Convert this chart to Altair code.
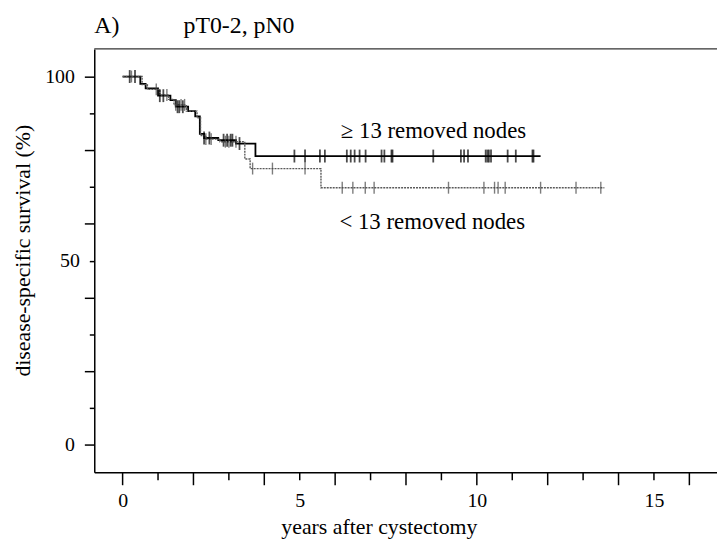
import altair as alt
import pandas as pd

# ---- data ----
ge13_time = [0, 0.5, 0.65, 1.0, 1.35, 1.5, 1.85, 2.05, 2.18, 2.3, 2.7, 3.2, 3.75, 11.8]
ge13_surv = [100, 98, 96.8, 94.8, 93.6, 91.8, 90.6, 89.2, 84.4, 83.3, 82.7, 81.8, 78.4, 78.4]
ge13_cens = [0.2, 0.35, 1.05, 1.15, 1.55, 1.6, 1.7, 2.3, 2.45, 2.85, 2.95, 3.05, 3.1, 3.3,
             4.85, 5.15, 5.57, 5.71, 6.33, 6.44, 6.55, 6.69, 6.86, 7.31, 7.39, 7.59, 7.62,
             8.77, 9.55, 9.64, 9.75, 10.25, 10.3, 10.34, 10.4, 10.87, 11.1, 11.57, 11.6]

lt13_time = [0, 0.55, 0.7, 1.05, 1.3, 1.45, 1.8, 2.1, 2.2, 2.35, 2.75, 3.45, 3.6, 5.6, 13.6]
lt13_surv = [100, 97.8, 96.5, 95, 93.8, 92.3, 90.6, 88.8, 84, 83, 82.3, 77.6, 75, 69.8, 69.8]
lt13_cens = [0.25, 0.95, 1.25, 1.5, 1.65, 1.75, 2.35, 2.5, 2.9, 3.0, 3.2,
             3.67, 4.23, 5.15, 6.2, 6.5, 6.85, 7.1, 9.2, 10.2, 10.5, 10.6, 10.8, 11.8, 12.8, 13.5]

x_ticks = list(range(0, 17))
x_labels = [0, 5, 10, 15]
y_ticks = list(range(0, 101, 10))

labels = ["\u2265 13 removed nodes", "< 13 removed nodes"]
label_x = [6.16, 6.12]
label_y = [85.1, 60.6]


def step_value(times, survs, t):
    v = survs[0]
    for ti, si in zip(times, survs):
        if ti <= t:
            v = si
    return v


ge_line = pd.DataFrame({"t": ge13_time, "s": ge13_surv})
lt_line = pd.DataFrame({"t": lt13_time, "s": lt13_surv})
ge_c = pd.DataFrame({"t": ge13_cens, "s": [step_value(ge13_time, ge13_surv, t) for t in ge13_cens]})
lt_c = pd.DataFrame({"t": lt13_cens, "s": [step_value(lt13_time, lt13_surv, t) for t in lt13_cens]})
lab = pd.DataFrame({"t": label_x, "s": label_y, "txt": labels})
ticks_long = pd.DataFrame({"t": x_ticks[::2]})
ticks_short = pd.DataFrame({"t": x_ticks[1::2]})

FONT = "Liberation Serif"
W, H = 628, 427

xs = alt.Scale(domain=[-0.8, 16.78], nice=False, zero=False)
ys = alt.Scale(domain=[-7.5, 107.5], nice=False, zero=False)

x_axis = alt.Axis(
    values=x_labels,
    labelOverlap=False,
    title="years after cystectomy",
    ticks=True,
    tickSize=0,
    labelPadding=18,
    titleX=287, titleY=55, titleAnchor="start", titleAlign="center", titleBaseline="middle",
    grid=False,
    labelFlush=False,
)
y_axis = alt.Axis(
    values=y_ticks,
    labelExpr="datum.value % 50 === 0 ? datum.label : ''",
    labelOverlap=False,
    title="disease-specific survival (%)",
    tickSize={"condition": {"test": "datum.value % 20 === 0", "value": 10}, "value": 5},
    labelPadding=10,
    titleX=-72, titleY=203, titleAngle=270, titleAnchor="start", titleAlign="center",
    titleBaseline="middle",
    grid=False,
)

base_x = alt.X("t:Q", scale=xs, axis=x_axis)
base_y = alt.Y("s:Q", scale=ys, axis=y_axis)

ge_l = alt.Chart(ge_line).mark_line(interpolate="step-after", color="black", strokeWidth=1.8).encode(
    x=base_x, y=base_y)
lt_l = alt.Chart(lt_line).mark_line(interpolate="step-after", color="#5a5a5a", strokeWidth=1.4,
                                    strokeDash=[2, 1]).encode(x="t:Q", y="s:Q")
ge_t = alt.Chart(ge_c).mark_tick(orient="vertical", color="black", thickness=1.8, size=13).encode(
    x="t:Q", y="s:Q")
lt_t = alt.Chart(lt_c).mark_tick(orient="vertical", color="#444444", thickness=1.4, size=12).encode(
    x="t:Q", y="s:Q")
txt = alt.Chart(lab).mark_text(align="left", baseline="middle", font=FONT, fontSize=23,
                               color="black").encode(x="t:Q", y="s:Q", text="txt:N")
tl = alt.Chart(ticks_long).mark_rule(color="black", strokeWidth=1.5).encode(
    x="t:Q", y=alt.value(H), y2=alt.value(H + 13))
ts = alt.Chart(ticks_short).mark_rule(color="black", strokeWidth=1.5).encode(
    x="t:Q", y=alt.value(H), y2=alt.value(H + 8))
frame_top = alt.Chart(pd.DataFrame({"a": [0]})).mark_rule(color="#333333", strokeWidth=1.2).encode(
    x=alt.value(0), x2=alt.value(W), y=alt.value(0))
t1 = alt.Chart(pd.DataFrame({"a": [0]})).mark_text(align="left", baseline="middle", font=FONT,
                                                   fontSize=24, color="black").encode(
    x=alt.value(0), y=alt.value(-23), text=alt.value("A)"))
t2 = alt.Chart(pd.DataFrame({"a": [0]})).mark_text(align="left", baseline="middle", font=FONT,
                                                   fontSize=24, color="black").encode(
    x=alt.value(90), y=alt.value(-23), text=alt.value("pT0-2, pN0"))

chart = alt.layer(ge_l, lt_l, ge_t, lt_t, txt, tl, ts, frame_top, t1, t2).properties(
    width=W, height=H,
    autosize=alt.AutoSizeParams(type="none"),
    padding={"left": 87, "top": 39, "right": 0, "bottom": 68},
    background="white",
).configure_view(stroke=None).configure_axis(
    labelFont=FONT, titleFont=FONT, labelFontSize=20, titleFontSize=22,
    titleFontWeight="normal", labelColor="black", titleColor="black",
    domainColor="black", domainWidth=1.5, tickColor="black", tickWidth=1.5,
)

chart.save("out.html", embed_options={"renderer": "svg", "actions": False})
